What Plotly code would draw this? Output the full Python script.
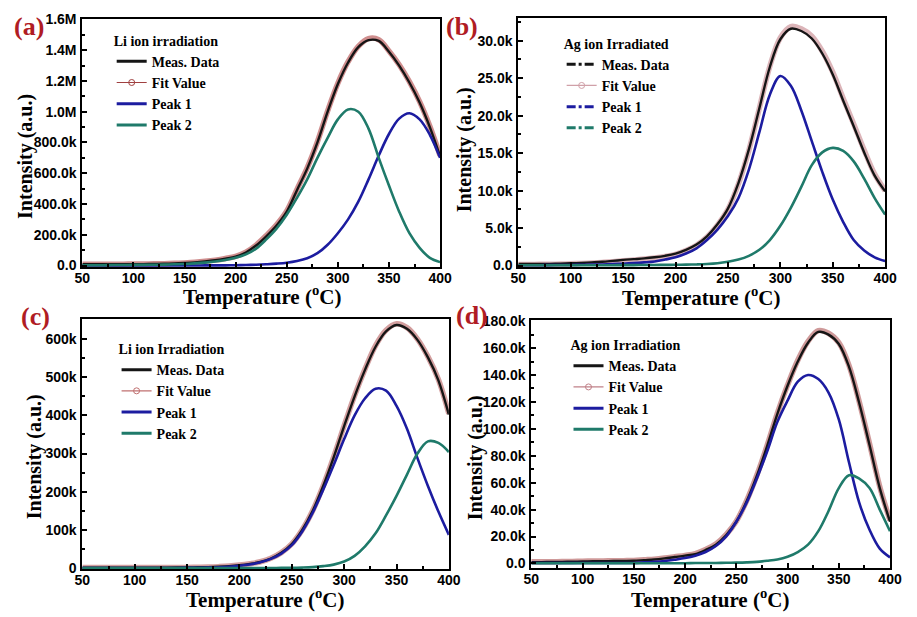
import plotly.graph_objects as go

# ---------------- data ----------------
temperature = [50, 60, 70, 80, 90, 100, 110, 120, 130, 140, 150, 160, 170, 180,
               190, 200, 210, 220, 230, 240, 250, 260, 270, 280, 290, 300, 310,
               320, 330, 340, 350, 360, 370, 380, 390, 400]

# (a) Li ion irradiation, values in millions
a_meas = [0.008, 0.008, 0.008, 0.008, 0.008, 0.009, 0.009, 0.010, 0.011, 0.013, 0.016, 0.020,
          0.026, 0.034, 0.045, 0.058, 0.085, 0.130, 0.190, 0.260, 0.350, 0.490, 0.630, 0.800,
          1.000, 1.180, 1.320, 1.420, 1.465, 1.460, 1.390, 1.300, 1.190, 1.060, 0.900, 0.710]
a_fit = [0.009, 0.009, 0.009, 0.009, 0.009, 0.010, 0.010, 0.011, 0.012, 0.014, 0.017, 0.021,
         0.027, 0.035, 0.046, 0.060, 0.087, 0.133, 0.195, 0.265, 0.355, 0.495, 0.635, 0.805,
         1.005, 1.185, 1.325, 1.425, 1.475, 1.468, 1.395, 1.305, 1.195, 1.065, 0.905, 0.715]
a_peak1 = [0.000, 0.000, 0.000, 0.000, 0.000, 0.000, 0.000, 0.000, 0.000, 0.000, 0.000, 0.000,
           0.001, 0.001, 0.001, 0.002, 0.003, 0.005, 0.008, 0.012, 0.018, 0.029, 0.047, 0.080,
           0.135, 0.210, 0.300, 0.415, 0.560, 0.715, 0.855, 0.955, 0.990, 0.950, 0.850, 0.700]
a_peak2 = [0.002, 0.002, 0.002, 0.003, 0.003, 0.004, 0.004, 0.005, 0.006, 0.008, 0.010, 0.014,
           0.019, 0.026, 0.036, 0.050, 0.072, 0.110, 0.170, 0.240, 0.330, 0.440, 0.560, 0.700,
           0.830, 0.950, 1.015, 1.000, 0.890, 0.700, 0.520, 0.350, 0.210, 0.115, 0.050, 0.022]

# (b) Ag ion irradiated, values in thousands
b_meas = [0.20, 0.20, 0.20, 0.22, 0.25, 0.30, 0.35, 0.42, 0.50, 0.62, 0.75, 0.85,
          0.95, 1.10, 1.30, 1.60, 2.10, 2.80, 3.90, 5.50, 7.60, 11.0, 15.5, 21.0,
          26.5, 30.2, 31.6, 31.3, 30.3, 28.3, 25.5, 22.0, 18.6, 15.1, 12.0, 9.9]
b_fit = [0.15, 0.15, 0.16, 0.18, 0.20, 0.24, 0.28, 0.34, 0.42, 0.52, 0.64, 0.75,
         0.86, 1.00, 1.20, 1.50, 2.00, 2.70, 3.80, 5.40, 7.50, 10.9, 15.4, 21.0,
         26.6, 30.4, 31.9, 31.6, 30.6, 28.6, 25.8, 22.3, 18.9, 15.4, 12.2, 10.0]
b_peak1 = [0.05, 0.05, 0.05, 0.06, 0.07, 0.08, 0.10, 0.12, 0.15, 0.20, 0.25, 0.32,
           0.42, 0.55, 0.80, 1.10, 1.60, 2.30, 3.40, 4.80, 6.60, 9.00, 12.8, 17.8,
           22.8, 25.3, 24.0, 20.7, 16.6, 12.5, 8.80, 5.80, 3.40, 2.00, 1.10, 0.60]
b_peak2 = [0.05, 0.05, 0.05, 0.05, 0.05, 0.05, 0.05, 0.05, 0.05, 0.05, 0.06, 0.06,
           0.07, 0.08, 0.09, 0.10, 0.12, 0.15, 0.20, 0.30, 0.50, 0.80, 1.30, 2.10,
           3.40, 5.30, 7.70, 10.5, 13.4, 15.1, 15.7, 15.3, 13.9, 11.6, 9.00, 6.80]

# (c) Li ion irradiation, values in thousands
c_meas = [1.0, 1.0, 1.0, 1.0, 1.0, 1.1, 1.1, 1.2, 1.2, 1.3, 1.5, 2.0,
          2.5, 3.5, 5.0, 7.5, 11.0, 16.0, 25.0, 40.0, 63.0, 100.0, 150.0, 215.0,
          290.0, 372.0, 450.0, 520.0, 580.0, 620.0, 637.0, 627.0, 598.0, 552.0, 492.0, 402.0]
c_fit = [1.2, 1.2, 1.2, 1.2, 1.2, 1.3, 1.3, 1.4, 1.4, 1.5, 1.7, 2.2,
         2.7, 3.7, 5.2, 7.8, 11.5, 16.5, 25.5, 40.5, 63.5, 100.5, 151.0, 216.0,
         291.0, 373.0, 452.0, 522.0, 583.0, 623.0, 640.0, 630.0, 600.0, 554.0, 494.0, 404.0]
c_peak1 = [0.0, 0.0, 0.0, 0.0, 0.0, 0.1, 0.1, 0.2, 0.2, 0.3, 0.5, 0.8,
           1.2, 2.0, 3.5, 6.0, 9.5, 15.0, 24.0, 38.0, 60.0, 96.0, 145.0, 205.0,
           270.0, 338.0, 400.0, 445.0, 470.0, 465.0, 425.0, 365.0, 288.0, 215.0, 148.0, 87.0]
c_peak2 = [0.0, 0.0, 0.0, 0.0, 0.0, 0.0, 0.0, 0.0, 0.0, 0.0, 0.0, 0.0,
           0.0, 0.1, 0.1, 0.1, 0.2, 0.2, 0.3, 0.4, 0.5, 1.2, 2.5, 5.0,
           9.0, 17.0, 32.0, 57.0, 91.0, 138.0, 189.0, 245.0, 300.0, 332.0, 328.0, 304.0]

# (d) Ag ion irradiation, values in thousands
d_meas = [1.0, 1.0, 1.1, 1.2, 1.3, 1.5, 1.6, 1.7, 1.8, 1.9, 2.0, 2.5,
          3.0, 3.8, 4.8, 5.8, 7.0, 10.0, 14.0, 21.0, 31.0, 46.0, 65.0, 87.0,
          111.0, 132.0, 150.0, 164.0, 172.0, 170.0, 163.0, 146.0, 119.0, 88.0, 56.0, 31.0]
d_fit = [1.2, 1.2, 1.3, 1.4, 1.5, 1.7, 1.8, 1.9, 2.0, 2.1, 2.2, 2.7,
         3.2, 4.0, 5.0, 6.0, 7.3, 10.3, 14.4, 21.4, 31.4, 46.5, 65.5, 87.5,
         111.5, 132.5, 151.0, 165.0, 173.0, 171.0, 164.0, 147.0, 120.0, 89.0, 57.0, 32.0]
d_peak1 = [0.3, 0.3, 0.3, 0.3, 0.3, 0.3, 0.3, 0.3, 0.3, 0.3, 0.4, 0.8,
           1.2, 1.8, 2.8, 4.0, 5.8, 8.5, 13.0, 20.0, 31.0, 45.0, 63.0, 83.0,
           105.0, 121.0, 135.0, 140.0, 137.0, 127.0, 107.0, 75.0, 45.0, 25.0, 11.0, 4.5]
d_peak2 = [0.2, 0.2, 0.2, 0.2, 0.2, 0.2, 0.2, 0.2, 0.2, 0.2, 0.2, 0.2,
           0.2, 0.2, 0.2, 0.2, 0.3, 0.3, 0.4, 0.5, 0.6, 0.8, 1.2, 2.0,
           3.0, 5.0, 8.5, 14.0, 24.0, 39.0, 56.0, 65.5, 63.0, 56.0, 40.0, 24.0]

series_names = ["Meas. Data", "Fit Value", "Peak 1", "Peak 2"]
legend_titles = ["Li ion irradiation", "Ag ion Irradiated", "Li ion Irradiation", "Ag ion Irradiation"]
panel_letters = ["(a)", "(b)", "(c)", "(d)"]

x_tick_vals = [50, 100, 150, 200, 250, 300, 350, 400]
a_tick_vals = [0, 0.2, 0.4, 0.6, 0.8, 1.0, 1.2, 1.4, 1.6]
a_tick_text = ["0.0", "200.0k", "400.0k", "600.0k", "800.0k", "1.0M", "1.2M", "1.4M", "1.6M"]
b_tick_vals = [0, 5, 10, 15, 20, 25, 30]
b_tick_text = ["0.0", "5.0k", "10.0k", "15.0k", "20.0k", "25.0k", "30.0k"]
c_tick_vals = [0, 100, 200, 300, 400, 500, 600]
c_tick_text = ["0", "100k", "200k", "300k", "400k", "500k", "600k"]
d_tick_vals = [0, 20, 40, 60, 80, 100, 120, 140, 160, 180]
d_tick_text = ["0.0", "20.0k", "40.0k", "60.0k", "80.0k", "100.0k", "120.0k", "140.0k", "160.0k", "180.0k"]

# ---------------- styling / layout ----------------
W, H = 917, 617
def fx(p):
    return p / W
def fy(p):
    return 1 - p / H

BLACK = "#151515"
BLUE = "#1c1ca0"
GREEN = "#1f7a6a"
SERIF = "Liberation Serif, Times New Roman, serif"
SANS = "Liberation Sans, Arial, sans-serif"

panels = [
    dict(meas=a_meas, fit=a_fit, p1=a_peak1, p2=a_peak2,
         tv=a_tick_vals, tt=a_tick_text, yrange=[-0.01, 1.6], minor=0.1,
         xdom=(76, 441.7), ydom=(265.5, 11.7), fitcol="#a83232", fitleg="#a04040",
         dash="solid", leg=(106, 20), lab=(21, 19), ytit=(18, 152), xtit=(260, 295)),
    dict(meas=b_meas, fit=b_fit, p1=b_peak1, p2=b_peak2,
         tv=b_tick_vals, tt=b_tick_text, yrange=[-0.2, 33.07], minor=2.5,
         xdom=(521.7, 896.7), ydom=(265.5, 10), fitcol="#c07880", fitleg="#d0a0a8",
         dash="dashdot", leg=(566, 23), lab=(464, 19), ytit=(467, 145), xtit=(708, 296)),
    dict(meas=c_meas, fit=c_fit, p1=c_peak1, p2=c_peak2,
         tv=c_tick_vals, tt=c_tick_text, yrange=[-2.5, 652], minor=50,
         xdom=(76, 450.7), ydom=(575, 319), fitcol="#b05050", fitleg="#c07070",
         dash="solid", leg=(111, 336), lab=(28, 316), ytit=(27, 460), xtit=(263, 605)),
    dict(meas=d_meas, fit=d_fit, p1=d_peak1, p2=d_peak2,
         tv=d_tick_vals, tt=d_tick_text, yrange=[-3.4, 180.7], minor=10,
         xdom=(535, 901.7), ydom=(574, 320), fitcol="#a84848", fitleg="#c08088",
         dash="solid", leg=(573, 332), lab=(474, 315), ytit=(478, 461), xtit=(718, 605)),
]

fig = go.Figure()
layout = dict(width=W, height=H, margin=dict(l=0, r=0, t=0, b=0),
              paper_bgcolor="white", plot_bgcolor="white", showlegend=True)
annotations = []

for i, p in enumerate(panels):
    n = "" if i == 0 else str(i + 1)
    xa, ya = "x" + n, "y" + n
    lg = "legend" + n
    common = dict(x=temperature, xaxis=xa, yaxis=ya, line_shape="spline", showlegend=False,
                  hoverinfo="skip")
    fig.add_trace(go.Scatter(y=p["fit"], mode="lines",
                             line=dict(color=p["fitcol"], width=5.5), opacity=0.55, **common))
    fig.add_trace(go.Scatter(y=p["meas"], mode="lines", line=dict(color=BLACK, width=2.4), **common))
    fig.add_trace(go.Scatter(y=p["p1"], mode="lines", line=dict(color=BLUE, width=2.6), **common))
    fig.add_trace(go.Scatter(y=p["p2"], mode="lines", line=dict(color=GREEN, width=2.6), **common))

    # legend entries
    leg_styles = [
        dict(mode="lines", line=dict(color=BLACK, width=3, dash=p["dash"])),
        dict(mode="lines+markers", line=dict(color=p["fitleg"], width=1.2),
             marker=dict(symbol="circle-open", size=6, color=p["fitleg"], line=dict(width=1))),
        dict(mode="lines", line=dict(color=BLUE, width=3, dash=p["dash"])),
        dict(mode="lines", line=dict(color=GREEN, width=3, dash=p["dash"])),
    ]
    for name, st in zip(series_names, leg_styles):
        fig.add_trace(go.Scatter(x=[None], y=[None], name=name, xaxis=xa, yaxis=ya,
                                 legend=lg, **st))

    axis_common = dict(showline=True, linewidth=2, linecolor="black", mirror=True,
                       showgrid=False, zeroline=False, ticks="inside", ticklen=5,
                       tickwidth=1.5, tickcolor="black",
                       tickfont=dict(family=SANS, size=14, color="black", weight="bold"))
    layout["xaxis" + n] = dict(domain=[fx(p["xdom"][0]), fx(p["xdom"][1])], range=[50, 400],
                               anchor=ya, tickmode="array", tickvals=x_tick_vals,
                               ticklabelstandoff=-3,
                               minor=dict(ticks="inside", ticklen=3, tickwidth=1.5,
                                          tickcolor="black", tickmode="linear", tick0=25, dtick=25),
                               **axis_common)
    layout["yaxis" + n] = dict(domain=[fy(p["ydom"][0]), fy(p["ydom"][1])], range=p["yrange"],
                               anchor=xa, tickmode="array", tickvals=p["tv"], ticktext=p["tt"],
                               ticklabelstandoff=1,
                               minor=dict(ticks="inside", ticklen=3, tickwidth=1.5,
                                          tickcolor="black", tickmode="linear", tick0=0,
                                          dtick=p["minor"]),
                               **axis_common)
    layout[lg] = dict(x=fx(p["leg"][0]), y=fy(p["leg"][1]), xanchor="left", yanchor="top",
                      bgcolor="rgba(0,0,0,0)", borderwidth=0, tracegroupgap=0,
                      itemwidth=30,
                      font=dict(family=SERIF, size=14, color="black", weight="bold"),
                      title=dict(text=legend_titles[i],
                                 font=dict(family=SERIF, size=14, color="black", weight="bold")))

    annotations.append(dict(text=panel_letters[i], x=fx(p["lab"][0]), y=fy(p["lab"][1]),
                            xref="paper", yref="paper", showarrow=False,
                            xanchor="center", yanchor="middle",
                            font=dict(family=SERIF, size=26, color="#b01c24", weight="bold")))
    annotations.append(dict(text="Intensity (a.u.)", x=fx(p["ytit"][0]), y=fy(p["ytit"][1]),
                            xref="paper", yref="paper", showarrow=False, textangle=-90,
                            xanchor="center", yanchor="middle",
                            font=dict(family=SERIF, size=20, color="black", weight="bold")))
    annotations.append(dict(text="Temperature (<sup>o</sup>C)", x=fx(p["xtit"][0]),
                            y=fy(p["xtit"][1]), xref="paper", yref="paper", showarrow=False,
                            xanchor="center", yanchor="middle",
                            font=dict(family=SERIF, size=21, color="black", weight="bold")))

layout["annotations"] = annotations
fig.update_layout(**layout)
fig.write_html("out.html")
